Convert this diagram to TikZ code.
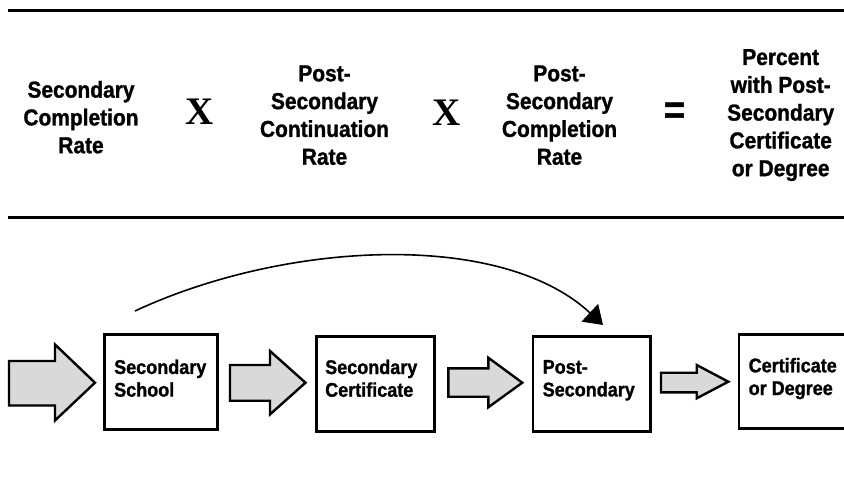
\documentclass[tikz,border=0pt]{standalone}
\usepackage{fontspec}
\setmainfont{Liberation Sans}[FakeStretch=0.91, BoldFeatures={FakeBold=1.2}]
\newfontfamily\xserif{Liberation Serif}
\usetikzlibrary{arrows.meta}
\definecolor{arrfill}{HTML}{D9D9D9}
\begin{document}
\begin{tikzpicture}[x=1pt,y=-1pt,
  rulest/.style={line width=3pt},
  toptext/.style={font=\fontsize{23}{27.8}\selectfont\bfseries, align=center, inner sep=0pt},
  opsign/.style={inner sep=0pt},
  boxst/.style={draw, line width=2.6pt, inner sep=0pt},
  boxtext/.style={font=\fontsize{19.8}{22.7}\selectfont\bfseries, align=left, inner sep=0pt, anchor=west},
  blockarrow/.style={draw, line width=2.4pt, fill=arrfill, line join=miter},
  curvearrow/.style={line width=1.6pt, -{Triangle[length=18pt,width=24pt]}}
]
\useasboundingbox (0,0) rectangle (844,503);

% horizontal rules
\coordinate (r1a) at (8,11);   \coordinate (r1b) at (846,11);
\coordinate (r2a) at (8,217);  \coordinate (r2b) at (846,217);
\draw[rulest] (r1a) -- (r1b);
\draw[rulest] (r2a) -- (r2b);

% formula
\node[toptext] (c1) at (81,117.2) {Secondary\\Completion\\Rate};
\node[opsign, font=\fontsize{39}{40}\selectfont\xserif\bfseries] (x1) at (200,112) {X};
\node[toptext] (c2) at (324.5,115.2) {Post-\\Secondary\\Continuation\\Rate};
\node[opsign, font=\fontsize{39}{40}\selectfont\xserif\bfseries] (x2) at (447,113) {X};
\node[toptext] (c3) at (559.5,115.2) {Post-\\Secondary\\Completion\\Rate};
\node[opsign, font=\fontsize{40}{41}\selectfont\bfseries] (eq) at (674.5,113) {=};
\node[toptext] (c5) at (780.7,115.1) {Percent\\with Post-\\Secondary\\Certificate\\or Degree};

% boxes
\node[boxst, minimum width=113pt, minimum height=95pt] (b1) at (161.2,382) {};
\node[boxst, minimum width=118.4pt, minimum height=95pt] (b2) at (375.5,383.9) {};
\node[boxst, minimum width=117.4pt, minimum height=95pt] (b3) at (591.7,383.9) {};
\node[boxst, minimum width=113pt, minimum height=94pt] (b4) at (795.5,381.7) {};

\node[boxtext] (t1) at (114,378.2) {Secondary\\School};
\node[boxtext] (t2) at (325,378.3) {Secondary\\Certificate};
\node[boxtext] (t3) at (542.5,380.3) {Post-\\Secondary};
\node[boxtext] (t4) at (748.5,378.6) {Certificate\\or Degree};

% block arrows
\draw[blockarrow] (9,361) -- (55,361) -- (55,344.5) -- (95,382.7) -- (55,420.5) -- (55,405.5) -- (9,405.5) -- cycle;
\draw[blockarrow] (230,365) -- (270,365) -- (270,351) -- (305.5,382.7) -- (270,414.4) -- (270,400.7) -- (230,400.7) -- cycle;
\draw[blockarrow] (448.3,368.3) -- (488.3,368.3) -- (488.3,357.7) -- (522.3,382.7) -- (488.3,407.3) -- (488.3,396.7) -- (448.3,396.7) -- cycle;
\draw[blockarrow] (661,372.7) -- (696.7,372.7) -- (696.7,365) -- (728.3,381.7) -- (696.7,398.3) -- (696.7,392.3) -- (661,392.3) -- cycle;

% curved arrow
\coordinate (cs) at (135,311);
\coordinate (ce) at (603,325);
\draw[curvearrow] (cs) .. controls (284.5,241.2) and (500.8,229.8) .. (ce);
\end{tikzpicture}
\end{document}
